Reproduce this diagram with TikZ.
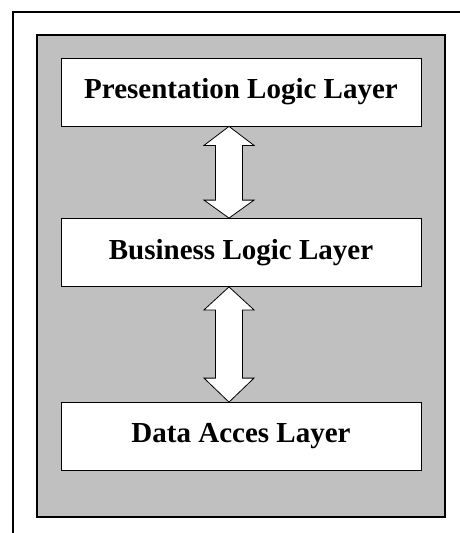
\documentclass[tikz,border=0pt]{standalone}
\usepackage{fontspec}
\setmainfont{Liberation Serif}
\usetikzlibrary{calc}

\tikzset{
  layer/.style={draw,thick,fill=white,minimum width=360pt,minimum height=68pt,
    inner sep=0pt,font=\fontsize{29}{34}\selectfont\bfseries},
  blockarrow/.style={draw,thick,fill=white,line join=miter}
}

\begin{document}
\begin{tikzpicture}[x=1pt,y=-1pt]
    \useasboundingbox (0,0) rectangle (460,533);
    \draw[line width=1.3pt] (460,12) -- (13,12) -- (13,533);
    \draw[line width=1.5pt,fill={rgb,255:red,192;green,192;blue,192}] (37,35) rectangle (445,517);
    \node[layer] (pres) at (241,92) {Presentation Logic Layer};
    \node[layer] (busi) at (241,252.5) {Business Logic Layer};
    \node[layer] (data) at (241,436.5) {Data Acces Layer};
    \coordinate (axis) at (229,0);
    \draw[blockarrow] (pres.south -| axis) -- ++(25,19) -- ++(-11.5,0)
      -- ($(busi.north -| axis)+(13.5,-18)$) -- ++(11.5,0) -- (busi.north -| axis)
      -- ++(-25,-18) -- ++(11.5,0) -- ($(pres.south -| axis)+(-13.5,19)$)
      -- ++(-11.5,0) -- cycle;
    \draw[blockarrow] (busi.south -| axis) -- ++(25,23) -- ++(-11.5,0)
      -- ($(data.north -| axis)+(13.5,-24)$) -- ++(11.5,0) -- (data.north -| axis)
      -- ++(-25,-24) -- ++(11.5,0) -- ($(busi.south -| axis)+(-13.5,23)$)
      -- ++(-11.5,0) -- cycle;
\end{tikzpicture}
\end{document}
